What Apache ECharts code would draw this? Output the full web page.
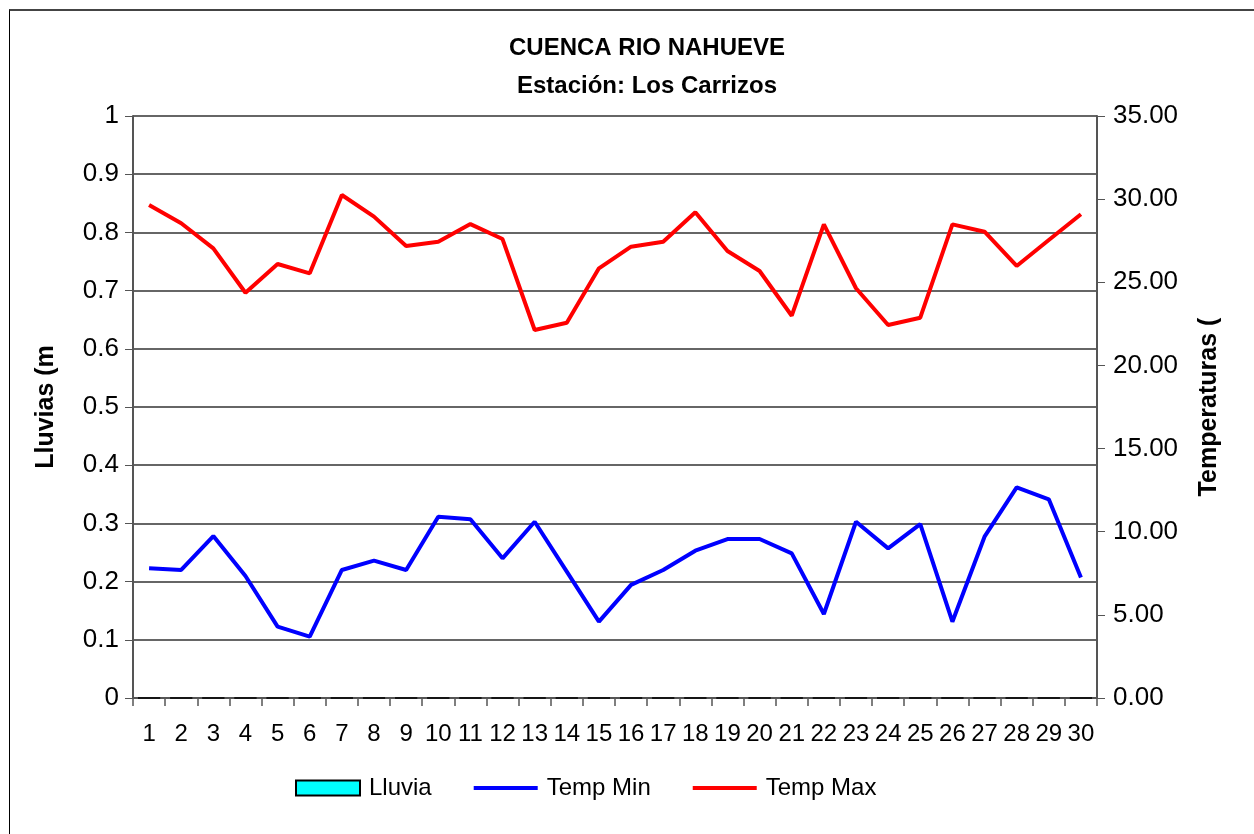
<!DOCTYPE html>
<html>
<head>
<meta charset="utf-8">
<script src="https://cdn.jsdelivr.net/npm/echarts@6/dist/echarts.min.js"></script>
<style>
  html, body { margin: 0; padding: 0; background: #fff; }
  #frame { position: absolute; left: 9px; top: 9px; width: 1260px; height: 840px; border-left: 1px solid #000; border-top: 2px solid #444; }
  #chart { position: absolute; left: 0; top: 0; width: 1254px; height: 834px; }
</style>
</head>
<body>
<div id="frame"></div>
<div id="chart"></div>
<script>
const days = ['1','2','3','4','5','6','7','8','9','10','11','12','13','14','15','16','17','18','19','20','21','22','23','24','25','26','27','28','29','30']
const lluvia = [0,0,0,0,0,0,0,0,0,0,0,0,0,0,0,0,0,0,0,0,0,0,0,0,0,0,0,0,0,0]
const tempMin = [7.8,7.7,9.74,7.34,4.29,3.69,7.7,8.26,7.7,10.9,10.75,8.4,10.6,7.6,4.59,6.8,7.7,8.86,9.56,9.56,8.7,5.05,10.6,9.0,10.46,4.59,9.7,12.67,11.95,7.24]
const tempMax = [29.65,28.55,27.04,24.37,26.1,25.54,30.25,28.95,27.18,27.44,28.5,27.6,22.13,22.57,25.84,27.14,27.44,29.21,26.88,25.68,22.99,28.48,24.64,22.43,22.87,28.48,28.04,25.98,27.54,29.09]

const font = 'Liberation Sans, Arial, sans-serif'
const chart = echarts.init(document.getElementById('chart'))

chart.setOption({
  animation: false,
  title: {
    text: 'CUENCA RIO NAHUEVE\nEstación: Los Carrizos',
    left: 642,
    top: 24,
    textAlign: 'center',
    textStyle: { fontFamily: font, fontSize: 24, fontWeight: 'bold', color: '#000', lineHeight: 38 }
  },
  legend: {
    top: 771,
    left: 290,
    itemGap: 40,
    itemWidth: 64,
    itemHeight: 15,
    textStyle: { fontFamily: font, fontSize: 24, color: '#000', padding: [0, 0, 0, 4] },
    data: [
      { name: 'Lluvia', icon: 'rect', itemStyle: { color: '#00ffff', borderColor: '#000', borderWidth: 2 } },
      { name: 'Temp Min', itemStyle: { opacity: 0 }, lineStyle: { width: 4, color: '#0000ff' } },
      { name: 'Temp Max', itemStyle: { opacity: 0 }, lineStyle: { width: 4, color: '#ff0000' } }
    ]
  },
  grid: { left: 133, right: 157, top: 116, bottom: 136 },
  xAxis: {
    type: 'category',
    data: days,
    boundaryGap: true,
    axisLine: { lineStyle: { color: '#555', width: 2 } },
    axisTick: { show: true, length: 8, lineStyle: { color: '#555', width: 1.5 } },
    axisLabel: { interval: 0, fontFamily: font, fontSize: 24, color: '#000', margin: 24 }
  },
  yAxis: [
    {
      type: 'value',
      min: 0, max: 1, interval: 0.1,
      name: 'Lluvias (m',
      nameLocation: 'middle',
      nameGap: 74,
      nameTextStyle: { fontFamily: font, fontSize: 25, fontWeight: 'bold', color: '#000' },
      axisLine: { show: true, lineStyle: { color: '#555', width: 2 } },
      axisTick: { show: true, length: 8, lineStyle: { color: '#555' } },
      axisLabel: { fontFamily: font, fontSize: 26, color: '#000', margin: 14 },
      splitLine: { lineStyle: { color: '#333', width: 1.5 } }
    },
    {
      type: 'value',
      min: 0, max: 35, interval: 5,
      name: 'Temperaturas (',
      nameLocation: 'middle',
      nameGap: 100,
      nameTextStyle: { fontFamily: font, fontSize: 25, fontWeight: 'bold', color: '#000' },
      axisLine: { show: true, lineStyle: { color: '#555', width: 2 } },
      axisTick: { show: true, length: 8, lineStyle: { color: '#555' } },
      axisLabel: { fontFamily: font, fontSize: 26, color: '#000', margin: 16, formatter: v => v.toFixed(2) },
      splitLine: { show: false }
    }
  ],
  series: [
    {
      name: 'Lluvia',
      type: 'bar',
      yAxisIndex: 0,
      data: lluvia,
      itemStyle: { color: '#00ffff', borderColor: '#000', borderWidth: 1 }
    },
    {
      name: 'Temp Min',
      type: 'line',
      yAxisIndex: 1,
      data: tempMin,
      symbol: 'none',
      lineStyle: { color: '#0000ff', width: 4 },
      itemStyle: { color: '#0000ff' }
    },
    {
      name: 'Temp Max',
      type: 'line',
      yAxisIndex: 1,
      data: tempMax,
      symbol: 'none',
      lineStyle: { color: '#ff0000', width: 4 },
      itemStyle: { color: '#ff0000' }
    }
  ]
})
</script>
</body>
</html>
